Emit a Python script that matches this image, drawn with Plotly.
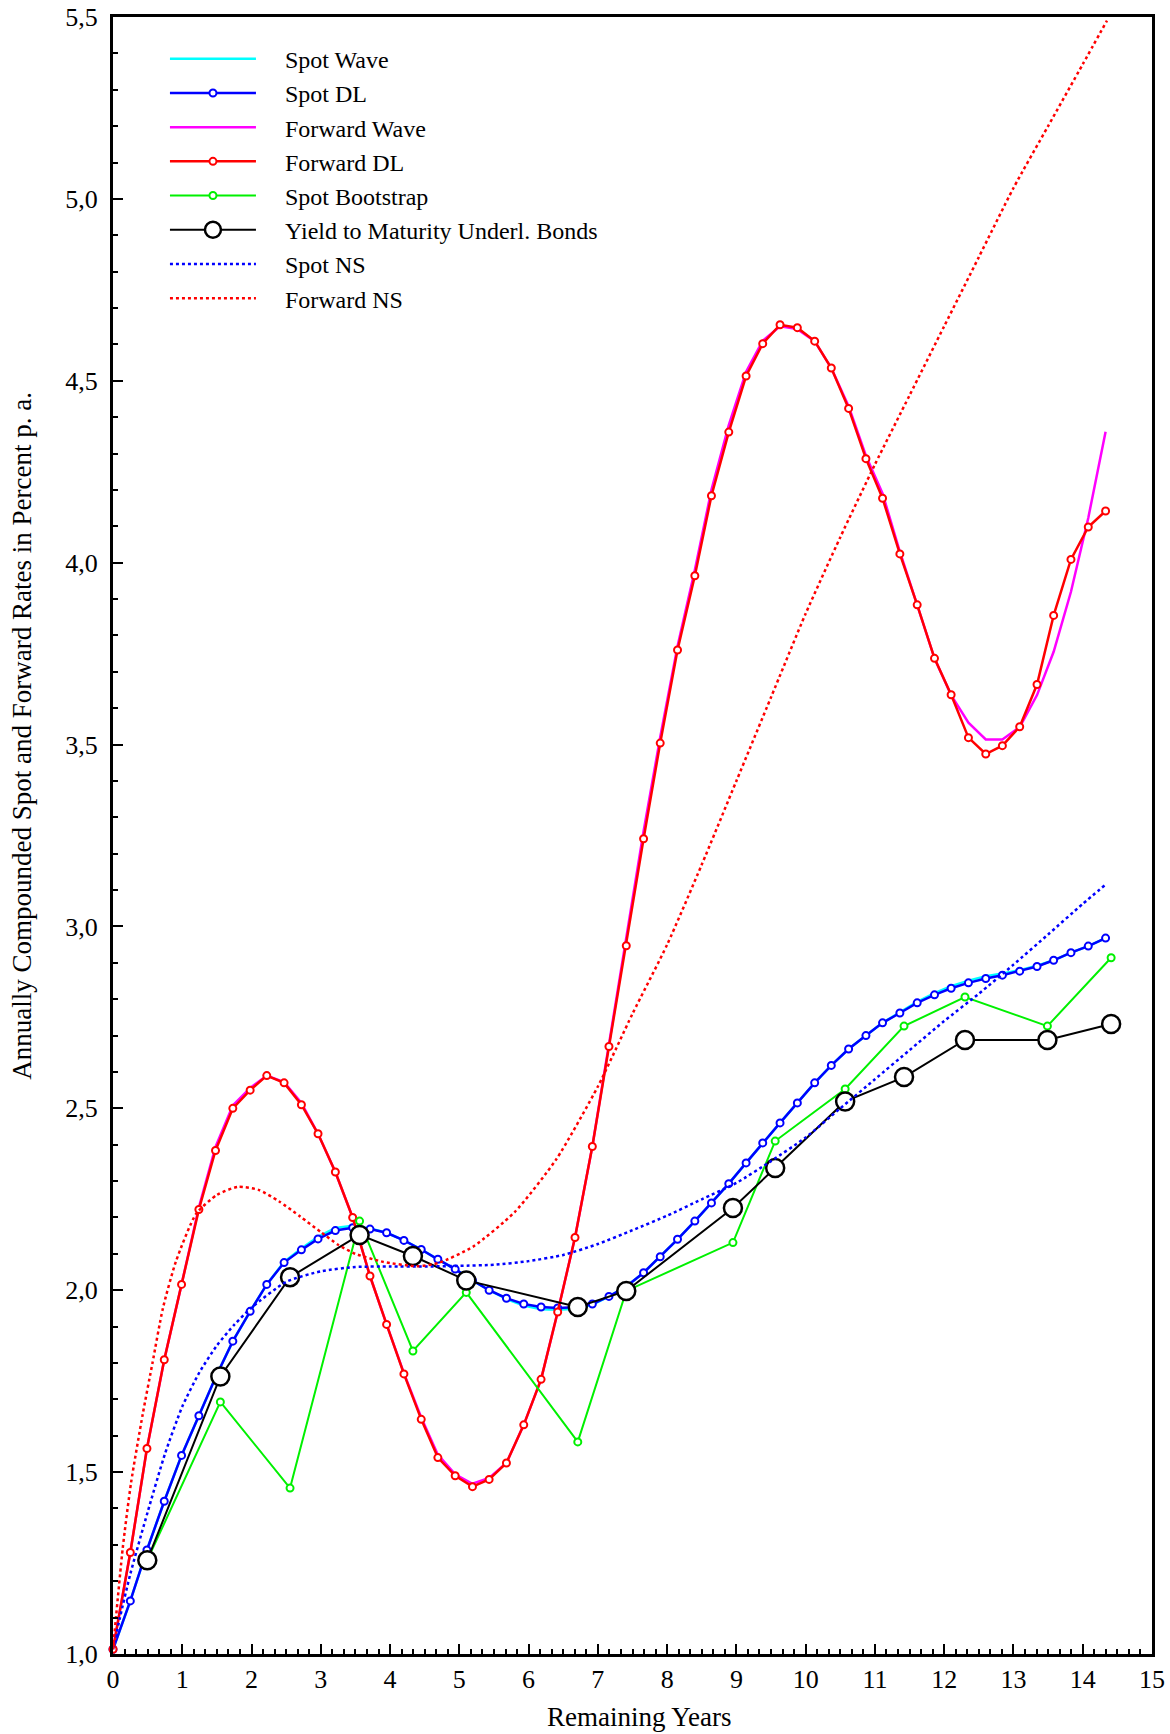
import plotly.graph_objects as go

# ---- curve grid for the wave / distributed-lag fits (years) ----
dl_years = [0.00, 0.25, 0.49, 0.74, 0.99, 1.24, 1.48, 1.73, 1.98, 2.22,
            2.47, 2.72, 2.96, 3.21, 3.46, 3.71, 3.95, 4.20, 4.45, 4.69,
            4.94, 5.19, 5.43, 5.68, 5.93, 6.18, 6.42, 6.67, 6.92, 7.16,
            7.41, 7.66, 7.90, 8.15, 8.40, 8.64, 8.89, 9.14, 9.38, 9.63,
            9.88, 10.13, 10.37, 10.62, 10.87, 11.11, 11.36, 11.61, 11.86, 12.10,
            12.35, 12.60, 12.84, 13.09, 13.34, 13.58, 13.83, 14.08, 14.33]

spot_dl = [1.013, 1.146, 1.286, 1.420, 1.546, 1.655, 1.760, 1.860, 1.942, 2.016,
           2.076, 2.111, 2.141, 2.164, 2.172, 2.168, 2.158, 2.137, 2.112, 2.085,
           2.058, 2.027, 2.000, 1.978, 1.962, 1.954, 1.951, 1.953, 1.962, 1.983,
           2.010, 2.048, 2.092, 2.140, 2.190, 2.240, 2.293, 2.350, 2.405, 2.460,
           2.515, 2.570, 2.618, 2.663, 2.700, 2.735, 2.762, 2.790, 2.812, 2.830,
           2.845, 2.857, 2.866, 2.877, 2.890, 2.907, 2.928, 2.946, 2.968]

spot_wave = [1.013, 1.146, 1.286, 1.420, 1.546, 1.655, 1.760, 1.860, 1.942, 2.016,
             2.078, 2.115, 2.147, 2.171, 2.177, 2.170, 2.158, 2.137, 2.112, 2.085,
             2.058, 2.027, 2.000, 1.976, 1.958, 1.948, 1.946, 1.949, 1.960, 1.983,
             2.010, 2.048, 2.092, 2.140, 2.190, 2.240, 2.293, 2.350, 2.405, 2.460,
             2.515, 2.570, 2.618, 2.663, 2.700, 2.735, 2.764, 2.793, 2.817, 2.836,
             2.851, 2.863, 2.871, 2.880, 2.892, 2.907, 2.928, 2.946, 2.968]

fwd_dl = [1.013, 1.279, 1.565, 1.809, 2.016, 2.222, 2.384, 2.500, 2.550, 2.590,
          2.570, 2.510, 2.430, 2.325, 2.200, 2.039, 1.906, 1.770, 1.645, 1.540,
          1.490, 1.460, 1.480, 1.525, 1.630, 1.755, 1.940, 2.145, 2.395, 2.670,
          2.947, 3.241, 3.504, 3.760, 3.964, 4.184, 4.359, 4.513, 4.602, 4.654,
          4.646, 4.609, 4.535, 4.424, 4.286, 4.177, 4.024, 3.884, 3.737, 3.637,
          3.519, 3.474, 3.497, 3.549, 3.665, 3.855, 4.009, 4.098, 4.142]

fwd_wave = [1.013, 1.279, 1.565, 1.809, 2.016, 2.228, 2.394, 2.508, 2.556, 2.590,
            2.572, 2.515, 2.430, 2.325, 2.200, 2.039, 1.906, 1.772, 1.650, 1.548,
            1.494, 1.468, 1.484, 1.525, 1.630, 1.755, 1.940, 2.145, 2.395, 2.675,
            2.960, 3.262, 3.520, 3.770, 3.980, 4.200, 4.378, 4.525, 4.610, 4.650,
            4.642, 4.609, 4.535, 4.430, 4.294, 4.190, 4.030, 3.884, 3.737, 3.636,
            3.560, 3.514, 3.514, 3.548, 3.636, 3.755, 3.920, 4.123, 4.360]

# ---- bond maturities: bootstrap spot rates and yields to maturity ----
bond_years = [0.495, 1.55, 2.556, 3.56, 4.33, 5.10, 6.71, 7.41,
              8.95, 9.56, 10.57, 11.42, 12.30, 13.49, 14.41]
spot_bootstrap = [1.258, 1.693, 1.456, 2.190, 1.833, 1.994, 1.583, 1.998,
                  2.131, 2.410, 2.553, 2.726, 2.806, 2.726, 2.914]
ytm = [1.258, 1.763, 2.036, 2.152, 2.094, 2.027, 1.954, 1.998,
       2.226, 2.336, 2.519, 2.586, 2.688, 2.688, 2.732]

# ---- Nelson-Siegel curves ----
ns_spot_years = [0.00, 0.10, 0.25, 0.50, 0.75, 1.00, 1.25, 1.50, 1.75, 2.00,
                 2.50, 3.00, 3.50, 4.00, 4.50, 5.00, 5.50, 6.00, 6.50, 7.00,
                 7.50, 8.00, 8.50, 9.00, 9.50, 10.00, 10.50, 11.00, 11.50, 12.00,
                 12.50, 13.00, 13.50, 14.00, 14.33]
ns_spot = [1.013, 1.100, 1.220, 1.390, 1.550, 1.680, 1.775, 1.848, 1.905, 1.952,
           2.023, 2.052, 2.064, 2.065, 2.065, 2.067, 2.070, 2.080, 2.097, 2.127,
           2.165, 2.205, 2.250, 2.295, 2.355, 2.420, 2.500, 2.580, 2.660, 2.740,
           2.815, 2.895, 2.978, 3.062, 3.115]

ns_fwd_years = [0.00, 0.14, 0.26, 0.43, 0.57, 0.72, 0.91, 1.20, 1.50, 1.80,
                2.10, 2.40, 2.70, 3.00, 3.25, 3.50, 3.90, 4.40, 4.70, 5.20,
                5.80, 6.40, 7.00, 7.50, 8.00, 8.50, 9.00, 9.50, 10.00, 10.50,
                11.00, 11.50, 12.00, 12.50, 13.00, 13.50, 14.00, 14.35]
ns_fwd = [1.013, 1.290, 1.470, 1.660, 1.800, 1.950, 2.080, 2.210, 2.262, 2.284,
          2.276, 2.244, 2.203, 2.160, 2.125, 2.100, 2.078, 2.066, 2.075, 2.120,
          2.215, 2.360, 2.560, 2.760, 2.950, 3.170, 3.400, 3.630, 3.860, 4.070,
          4.270, 4.460, 4.650, 4.840, 5.030, 5.200, 5.370, 5.490]

x_ticks = list(range(0, 16))
y_ticks = [1.0, 1.5, 2.0, 2.5, 3.0, 3.5, 4.0, 4.5, 5.0, 5.5]

FONT = "Liberation Serif, Times New Roman, serif"
GAP = "\u00a0" * 4  # space between legend sample line and its label


def small_marker(color):
    return dict(symbol="circle", size=7, color="white", line=dict(color=color, width=2))


fig = go.Figure()
fig.add_trace(go.Scatter(x=dl_years, y=spot_wave, name=GAP + "Spot Wave", mode="lines",
                         line=dict(color="#00ffff", width=2.5)))
fig.add_trace(go.Scatter(x=dl_years, y=spot_dl, name=GAP + "Spot DL", mode="lines+markers",
                         line=dict(color="#0000ff", width=2.5),
                         marker=small_marker("#0000ff"), cliponaxis=False))
fig.add_trace(go.Scatter(x=dl_years, y=fwd_wave, name=GAP + "Forward Wave", mode="lines",
                         line=dict(color="#ff00ff", width=2.5)))
fig.add_trace(go.Scatter(x=dl_years, y=fwd_dl, name=GAP + "Forward DL", mode="lines+markers",
                         line=dict(color="#ff0000", width=2.5),
                         marker=small_marker("#ff0000"), cliponaxis=False))
fig.add_trace(go.Scatter(x=bond_years, y=spot_bootstrap, name=GAP + "Spot Bootstrap",
                         mode="lines+markers", line=dict(color="#00f000", width=2),
                         marker=small_marker("#00f000")))
fig.add_trace(go.Scatter(x=bond_years, y=ytm, name=GAP + "Yield to Maturity Underl. Bonds",
                         mode="lines+markers", line=dict(color="black", width=2),
                         marker=dict(symbol="circle", size=18, color="white",
                                     line=dict(color="black", width=2.5))))
fig.add_trace(go.Scatter(x=ns_spot_years, y=ns_spot, name=GAP + "Spot NS", mode="lines",
                         line=dict(color="#0000ff", width=2.5, dash="3px,3px",
                                   shape="spline", smoothing=0.6)))
fig.add_trace(go.Scatter(x=ns_fwd_years, y=ns_fwd, name=GAP + "Forward NS", mode="lines",
                         line=dict(color="#ff0000", width=2.5, dash="3px,3px",
                                   shape="spline", smoothing=0.6)))

axis_common = dict(showline=True, linecolor="black", linewidth=3, mirror=True,
                   showgrid=False, zeroline=False, ticks="inside", tickcolor="black",
                   tickwidth=2, automargin=False,
                   tickfont=dict(family=FONT, size=26, color="black"))

fig.update_xaxes(range=[0, 15], tickvals=x_ticks, ticklen=10,
                 minor=dict(dtick=1/6, tick0=0, ticks="inside", ticklen=5,
                            tickwidth=2, tickcolor="black"),
                 ticklabelstandoff=0, **axis_common)
fig.update_yaxes(range=[1.0, 5.5], tickvals=y_ticks, tickformat=".1f", ticklen=10,
                 minor=dict(dtick=0.1, tick0=1.0, ticks="inside", ticklen=5,
                            tickwidth=2, tickcolor="black"),
                 ticklabelstandoff=7, **axis_common)

fig.add_annotation(text="Remaining Years", xref="paper", yref="paper",
                   x=0.507, y=-0.0385, xanchor="center", yanchor="middle", showarrow=False,
                   font=dict(family=FONT, size=27, color="black"))
fig.add_annotation(text="Annually Compounded Spot and Forward Rates in Percent p. a.",
                   xref="paper", yref="paper", textangle=-90,
                   x=-0.0875, y=0.561, xanchor="center", yanchor="middle", showarrow=False,
                   font=dict(family=FONT, size=27, color="black"))

fig.update_layout(
    width=1170, height=1734,
    margin=dict(l=113, r=18, t=17, b=80, autoexpand=False),
    paper_bgcolor="white", plot_bgcolor="white",
    separators=",.",
    showlegend=True,
    legend=dict(x=0.05, y=0.988, xanchor="left", yanchor="top",
                bgcolor="rgba(0,0,0,0)", borderwidth=0, itemwidth=86,
                font=dict(family=FONT, size=24, color="black")),
    font=dict(family=FONT, color="black"),
)

fig.write_html("out.html")
